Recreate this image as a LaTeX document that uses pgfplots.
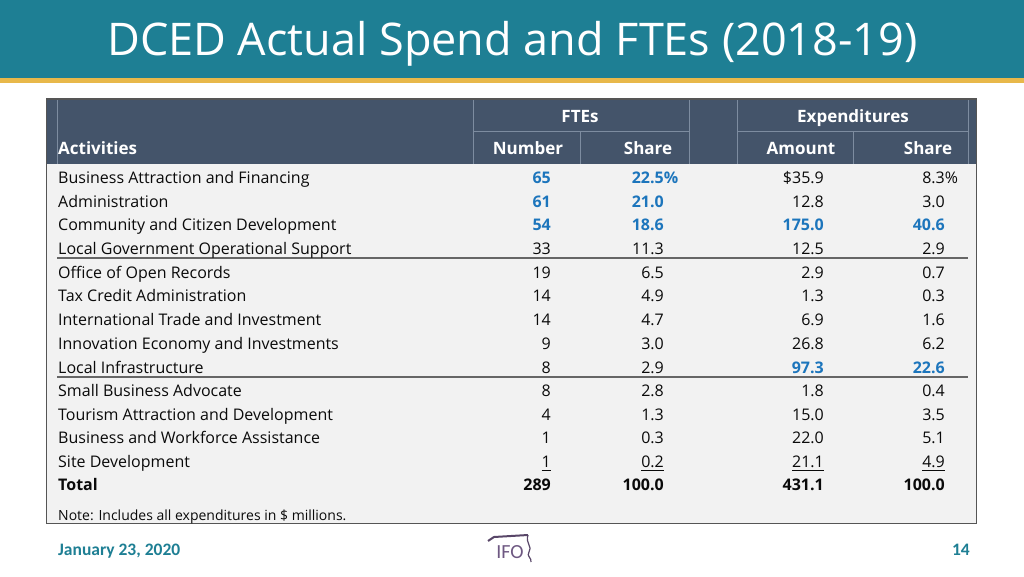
\documentclass[border=0pt]{standalone}
\usepackage{pgfplots}
\pgfplotsset{compat=1.18}
\usepackage{pgfplotstable}
\usepackage{fontspec}
\setmainfont{Open Sans}
\newfontfamily\footfont{Carlito}
\definecolor{teal}{RGB}{30,127,148}
\definecolor{gold}{RGB}{232,184,74}
\definecolor{slate}{RGB}{68,84,106}
\definecolor{slateline}{RGB}{125,140,160}
\definecolor{bodybg}{RGB}{242,242,242}
\definecolor{ifoblue}{RGB}{28,117,188}
\definecolor{txt}{RGB}{10,10,10}
\definecolor{bordergrey}{RGB}{85,85,85}
\definecolor{ifopurple}{RGB}{110,88,130}
\newcommand\ul[1]{\setbox0=\hbox{#1}\rlap{\vrule width\wd0 height -2.2pt depth 3.2pt}\box0}

% activity names (x = left edge, y = baseline in pixels from top)
\pgfplotstableread[col sep=comma]{
x,y,label
58,183.5,Business Attraction and Financing
58,207,Administration
58,230.5,Community and Citizen Development
58,254.5,Local Government Operational Support
58,278,Office of Open Records
58,301.5,Tax Credit Administration
58,325.5,International Trade and Investment
58,349.5,Innovation Economy and Investments
58,373,Local Infrastructure
58,396.5,Small Business Advocate
58,420,Tourism Attraction and Development
58,443.5,Business and Workforce Assistance
58,467.5,Site Development
}\names

% plain values (x = right edge of column)
\pgfplotstableread{
x y v
551 254.5 33
551 278 19
551 301.5 14
551 325.5 14
551 349.5 9
551 373 8
551 396.5 8
551 420 4
551 443.5 1
664 254.5 11.3
664 278 6.5
664 301.5 4.9
664 325.5 4.7
664 349.5 3.0
664 373 2.9
664 396.5 2.8
664 420 1.3
664 443.5 0.3
824 207 12.8
824 254.5 12.5
824 278 2.9
824 301.5 1.3
824 325.5 6.9
824 349.5 26.8
824 396.5 1.8
824 420 15.0
824 443.5 22.0
945 207 3.0
945 254.5 2.9
945 278 0.7
945 301.5 0.3
945 325.5 1.6
945 349.5 6.2
945 396.5 0.4
945 420 3.5
945 443.5 5.1
}\plainvals

% highlighted values (blue, bold)
\pgfplotstableread{
x y v
551 183.5 65
551 207 61
551 230.5 54
664 207 21.0
664 230.5 18.6
824 230.5 175.0
824 373 97.3
945 230.5 40.6
945 373 22.6
}\bluevals

\pgfplotstableread{
x y v
664 183.5 22.5
}\bluepct

\pgfplotstableread{
x y v
945 183.5 8.3
}\plainpct

\pgfplotstableread{
x y v
824 183.5 35.9
}\dollarvals

\pgfplotstableread{
x y v
551 467.5 1
664 467.5 0.2
824 467.5 21.1
945 467.5 4.9
}\ulvals

\pgfplotstableread{
x y v
551 490.5 289
664 490.5 100.0
824 490.5 431.1
945 490.5 100.0
}\totalvals

\pgfplotsset{
  cell/.style={only marks, mark=none, point meta=explicit symbolic,
    nodes near coords,
    every node near coord/.append style={anchor=base east, inner sep=0pt,
      font=\fontsize{16}{19}\selectfont, text=txt}},
}

\begin{document}
\begin{tikzpicture}
\begin{axis}[hide axis, scale only axis, width=1024pt, height=576pt,
  xmin=0, xmax=1024, ymin=0, ymax=576, y dir=reverse, clip=false]
% page background and header band
\fill[white] (axis cs:0,0) rectangle (axis cs:1024,576);
\fill[teal] (axis cs:0,0) rectangle (axis cs:1024,78);
\fill[gold] (axis cs:0,78) rectangle (axis cs:1024,83);
\node[anchor=base west, inner sep=0pt, text=white, font=\fontsize{45}{50}\selectfont]
  at (axis cs:107,55) {DCED Actual Spend and FTEs (2018-19)};
% table body and header
\fill[bodybg] (axis cs:47,164) rectangle (axis cs:976,523);
\fill[slate] (axis cs:47,99) rectangle (axis cs:976,164);
\draw[slateline, line width=0.8pt] (axis cs:473,131) -- (axis cs:689,131);
\draw[slateline, line width=0.8pt] (axis cs:737,131) -- (axis cs:968,131);
\draw[slateline, line width=0.6pt] (axis cs:57,99) -- (axis cs:57,164);
\draw[slateline, line width=0.6pt] (axis cs:473,99) -- (axis cs:473,164);
\draw[slateline, line width=0.6pt] (axis cs:689,99) -- (axis cs:689,164);
\draw[slateline, line width=0.6pt] (axis cs:737,99) -- (axis cs:737,164);
\draw[slateline, line width=0.6pt] (axis cs:968,99) -- (axis cs:968,164);
\draw[slateline, line width=0.6pt] (axis cs:580,131) -- (axis cs:580,164);
\draw[slateline, line width=0.6pt] (axis cs:853,131) -- (axis cs:853,164);
\draw[bordergrey, line width=1.5pt] (axis cs:46.5,99) rectangle (axis cs:976.5,523.5);
\draw[bordergrey!90, line width=1.2pt] (axis cs:57,258) -- (axis cs:968,258);
\draw[bordergrey!90, line width=1.2pt] (axis cs:57,377) -- (axis cs:968,377);
% header text
\node[anchor=base west, inner sep=0pt, text=white, font=\bfseries\fontsize{17}{20}\selectfont] at (axis cs:58,154) {Activities};
\node[anchor=base, inner sep=0pt, text=white, font=\bfseries\fontsize{17}{20}\selectfont] at (axis cs:580,122) {FTEs};
\node[anchor=base, inner sep=0pt, text=white, font=\bfseries\fontsize{17}{20}\selectfont] at (axis cs:853,122) {Expenditures};
\node[anchor=base, inner sep=0pt, text=white, font=\bfseries\fontsize{17}{20}\selectfont] at (axis cs:528,154) {Number};
\node[anchor=base, inner sep=0pt, text=white, font=\bfseries\fontsize{17}{20}\selectfont] at (axis cs:648,154) {Share};
\node[anchor=base, inner sep=0pt, text=white, font=\bfseries\fontsize{17}{20}\selectfont] at (axis cs:801,154) {Amount};
\node[anchor=base, inner sep=0pt, text=white, font=\bfseries\fontsize{17}{20}\selectfont] at (axis cs:928,154) {Share};
% activity names
\addplot[cell, every node near coord/.append style={anchor=base west}]
  table[x=x, y=y, meta=label] {\names};
\node[anchor=base west, inner sep=0pt, text=txt, font=\bfseries\fontsize{16}{19}\selectfont]
  at (axis cs:58,490.5) {Total};
% values
\addplot[cell] table[x=x, y=y, meta=v] {\plainvals};
\addplot[cell, every node near coord/.append style={text=ifoblue, font=\bfseries\fontsize{16}{19}\selectfont}]
  table[x=x, y=y, meta=v] {\bluevals};
\addplot[cell, nodes near coords={\pgfplotspointmeta\rlap{\%}},
  every node near coord/.append style={text=ifoblue, font=\bfseries\fontsize{16}{19}\selectfont}]
  table[x=x, y=y, meta=v] {\bluepct};
\addplot[cell, nodes near coords={\pgfplotspointmeta\rlap{\%}}]
  table[x=x, y=y, meta=v] {\plainpct};
\addplot[cell, nodes near coords={\$\pgfplotspointmeta}]
  table[x=x, y=y, meta=v] {\dollarvals};
\addplot[cell, nodes near coords={\ul{\pgfplotspointmeta}}]
  table[x=x, y=y, meta=v] {\ulvals};
\addplot[cell, every node near coord/.append style={font=\bfseries\fontsize{16}{19}\selectfont}]
  table[x=x, y=y, meta=v] {\totalvals};
% note
\node[anchor=base west, inner sep=0pt, text=txt, font=\fontsize{14}{16}\selectfont]
  at (axis cs:58,520) {Note: Includes all expenditures in \$ millions.};
% footer
\node[anchor=base west, inner sep=0pt, text=teal, font=\footfont\bfseries\fontsize{17.5}{20}\selectfont]
  at (axis cs:58,555) {January 23, 2020};
\node[anchor=base east, inner sep=0pt, text=teal, font=\footfont\bfseries\fontsize{17.5}{20}\selectfont]
  at (axis cs:970,555) {14};
\draw[ifopurple!80!black, line width=2pt] (axis cs:488,541) -- (axis cs:494,537) -- (axis cs:528,535);
\draw[ifopurple!80!black, line width=1.2pt] (axis cs:528,535) .. controls (axis cs:525,543) and (axis cs:533,547) .. (axis cs:529,552) .. controls (axis cs:526,556) and (axis cs:532,558) .. (axis cs:531,562);
\node[anchor=base, inner sep=0pt, text=ifopurple, font=\footfont\fontsize{20}{22}\selectfont]
  at (axis cs:510,558) {IFO};
\end{axis}
\end{tikzpicture}
\end{document}
